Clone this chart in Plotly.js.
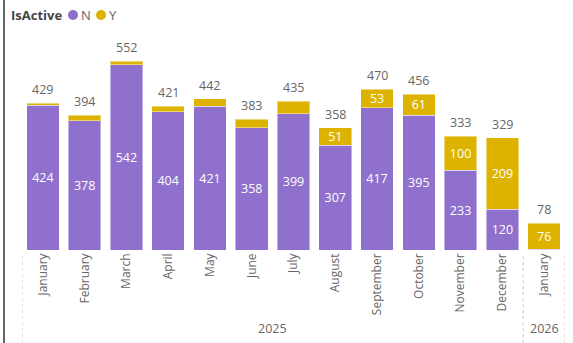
<!DOCTYPE html>
<html>
<head>
<meta charset="utf-8">
<script src="https://cdn.plot.ly/plotly-3.0.1.min.js"></script>
<style>html,body{margin:0;padding:0;background:#fff;}#chart{width:573px;height:343px;}</style>
</head>
<body>
<div id="chart"></div>
<script>
const months = ["January","February","March","April","May","June","July","August","September","October","November","December","January"];
const years = ["2025","2025","2025","2025","2025","2025","2025","2025","2025","2025","2025","2025","2026"];
const seriesN = [424,378,542,404,421,358,399,307,417,395,233,120,2];
const seriesY = [5,16,10,17,21,25,36,51,53,61,100,209,76];
const totals = [429,394,552,421,442,383,435,358,470,456,333,329,78];
const labelN = ["424","378","542","404","421","358","399","307","417","395","233","120",""];
const labelY = ["","","","","","","","51","53","61","100","209","76"];
const legendTitle = "IsActive";
const seriesNames = ["N","Y"];

const purple = "#8F70CC";
const gold = "#DDB300";
const font = "'Segoe UI', 'Open Sans', sans-serif";
const idx = months.map((m,i)=>i);

const traces = [
  {type:"bar", name:seriesNames[0], x:idx, y:seriesN, text:labelN, textposition:"inside", insidetextanchor:"middle",
   textangle:0, constraintext:"none", textfont:{color:"#fff", size:12.5, family:font}, marker:{color:purple, line:{color:"rgba(255,255,255,0.45)", width:1}},
   hoverinfo:"y", showlegend:false, cliponaxis:false},
  {type:"bar", name:seriesNames[1], x:idx, y:seriesY, text:labelY, textposition:"inside", insidetextanchor:"middle",
   textangle:0, constraintext:"none", textfont:{color:"#fff", size:12.5, family:font}, marker:{color:gold, line:{color:"rgba(255,255,255,0.45)", width:1}},
   hoverinfo:"y", showlegend:false, cliponaxis:false}
];

const W = 543, H = 205, L = 22, B = 250;
const px = v => (v - L) / W;
const py = v => (B - v) / H;

// year group labels
const groups = [];
years.forEach((y,i)=>{ if(!groups.length || groups[groups.length-1].y!==y) groups.push({y:y,s:i,e:i}); else groups[groups.length-1].e=i; });

const annotations = groups.map(g=>({xref:"x", yref:"paper", x:(g.s+g.e)/2, y:-0.385, text:g.y, showarrow:false,
  font:{color:"#666", size:12.5, family:font}, xanchor:"center", yanchor:"middle"}));
totals.forEach((t,i)=>annotations.push({xref:"x", yref:"y", x:idx[i], y:t, text:String(t), showarrow:false,
  xanchor:"center", yanchor:"bottom", yshift:3, font:{color:"#666", size:12.5, family:font}}));
annotations.push({xref:"paper", yref:"paper", x:px(9), y:py(15), xanchor:"left", yanchor:"middle", showarrow:false,
  text:"<b>"+legendTitle+"</b>", font:{color:"#444", size:13, family:font}});
annotations.push({xref:"paper", yref:"paper", x:px(79), y:py(15), xanchor:"left", yanchor:"middle", showarrow:false,
  text:seriesNames[0], font:{color:"#666", size:13, family:font}});
annotations.push({xref:"paper", yref:"paper", x:px(107), y:py(15), xanchor:"left", yanchor:"middle", showarrow:false,
  text:seriesNames[1], font:{color:"#666", size:13, family:font}});

const shapes = [];
const bounds = [-0.5];
groups.forEach(g=>bounds.push(g.e+0.5));
bounds.forEach(b=>shapes.push({type:"line", xref:"x", yref:"paper", x0:b, x1:b, y0:-0.03, y1:-0.46,
  line:{color:"#c8c8c8", width:1, dash:"dot"}}));
shapes.push({type:"line", xref:"paper", yref:"paper", x0:px(4), x1:px(4), y0:-0.46, y1:1.23, line:{color:"#333", width:1.5}});
[[73,purple],[101,gold]].forEach(([cx,c])=>shapes.push({type:"circle", xref:"paper", yref:"paper",
  xsizemode:"pixel", ysizemode:"pixel", xanchor:px(cx), yanchor:py(15), x0:-5, x1:5, y0:-5, y1:5,
  fillcolor:c, line:{width:0}}));

const layout = {
  width:573, height:343,
  margin:{l:22, r:8, t:45, b:93},
  barmode:"stack", bargap:0.22,
  paper_bgcolor:"#fff", plot_bgcolor:"#fff",
  font:{family:font, color:"#666"},
  showlegend:false,
  xaxis:{type:"linear", range:[-0.5,12.5], tickmode:"array", tickvals:idx, ticktext:months, tickangle:-90,
    tickfont:{size:12, color:"#666", family:font}, showgrid:false, zeroline:false, showline:false, ticks:"", fixedrange:true},
  yaxis:{range:[0,600], visible:false, showgrid:false, zeroline:false, fixedrange:true},
  annotations:annotations,
  shapes:shapes
};

Plotly.newPlot("chart", traces, layout, {displayModeBar:false, staticPlot:true});
</script>
</body>
</html>
